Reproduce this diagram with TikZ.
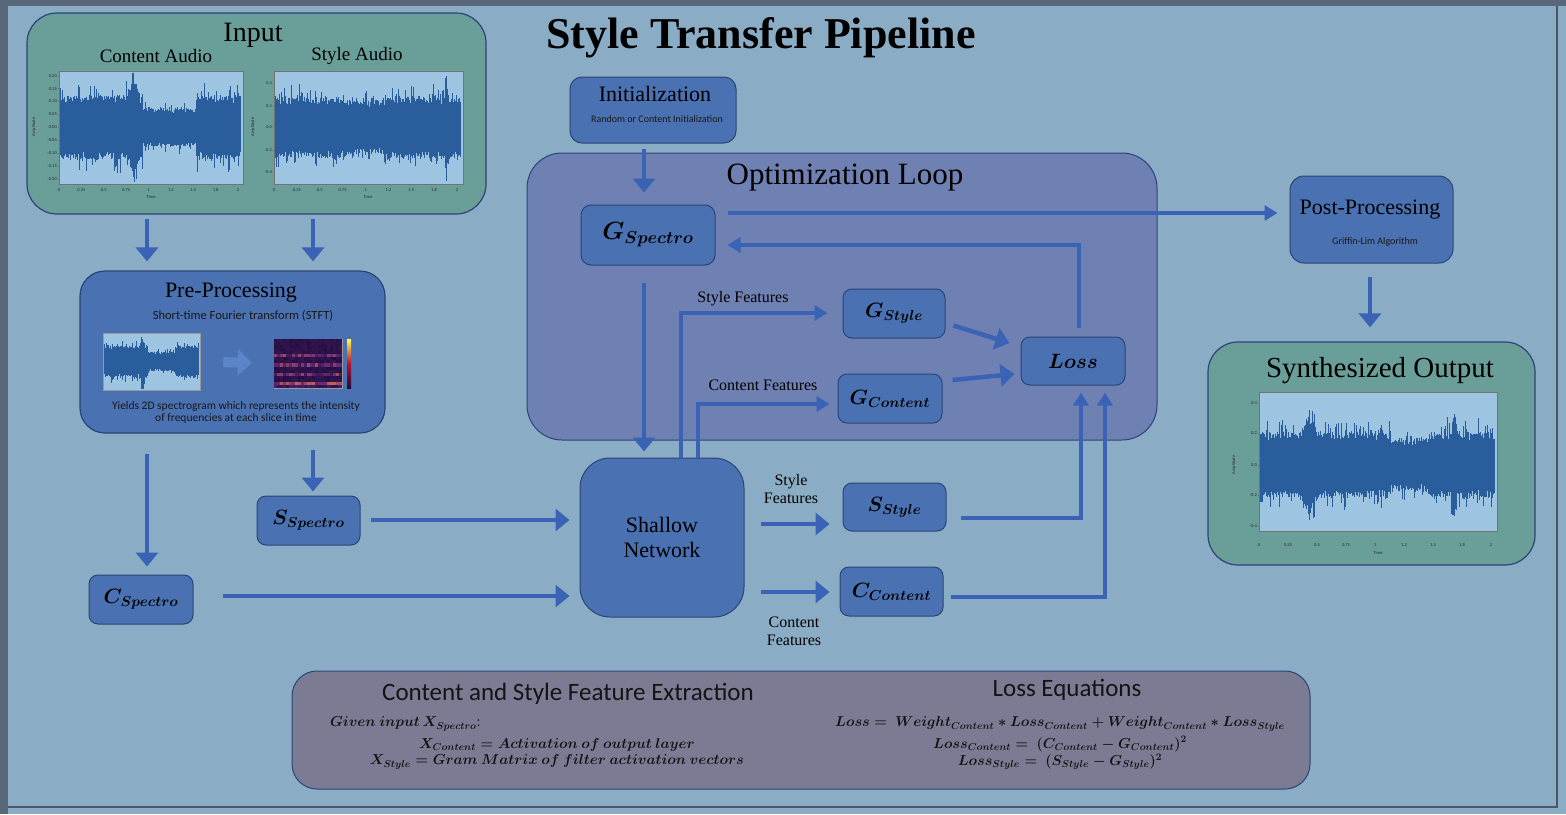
\documentclass[tikz,border=0pt]{standalone}
\usepackage{fontspec}
\setmainfont{Liberation Serif}
\setsansfont{Carlito}
\usetikzlibrary{arrows.meta,calc}
\definecolor{bgc}{HTML}{8AADC5}
\definecolor{framedark}{HTML}{58677A}
\definecolor{greenc}{HTML}{6A9E98}
\definecolor{nodeblue}{HTML}{4A71B1}
\definecolor{optc}{HTML}{6F80B2}
\definecolor{botc}{HTML}{7B7B93}
\definecolor{arrowcol}{HTML}{3A63B5}
\definecolor{borderc}{HTML}{2B4478}
\definecolor{plotbg}{HTML}{9DC4E0}
\definecolor{wavecol}{HTML}{2A5D9C}
\definecolor{prearrow}{HTML}{5B85C8}
\definecolor{magdark}{HTML}{1E0C3A}
\definecolor{magpurple}{HTML}{5C2478}
\definecolor{magorange}{HTML}{D8744A}
\definecolor{tickc}{HTML}{2A2A3A}
\newcommand\fsz[2]{\fontsize{#1}{#2}\selectfont}
\newcommand\wave[7]{%
  \pgfmathsetseed{#7}%
  \foreach \i in {0,...,#6}{%
    \pgfmathsetmacro\wt{\i/#6}%
    \pgfmathsetmacro\wE{#5}%
    \pgfmathsetmacro\wX{#1+(#2-#1)*\wt}%
    \pgfmathsetmacro\wA{#3-#4*min(0.97,\wE*(0.78+0.25*rnd+0.5*rnd^8))}%
    \pgfmathsetmacro\wB{#3+#4*min(0.97,\wE*(0.78+0.25*rnd+0.5*rnd^8))}%
    \draw[wavecol, line width=0.9pt] (\wX,\wA) -- (\wX,\wB);%
  }%
}
\newcommand\xticks[4]{%
  \foreach \lab [count=\k from 0] in {0,0.25,0.5,0.75,1,1.2,1.5,1.8,2}{%
    \node[tickl] (#4x\k) at ({#1+(#2-#1)*\k/8},#3) {\lab};%
  }%
}
\begin{document}
\begin{tikzpicture}[x=1pt,y=-1pt,
  box/.style={draw=borderc, line width=1pt, fill=nodeblue, rounded corners=9pt, inner sep=0pt},
  bigbox/.style={draw=borderc, line width=1.2pt, rounded corners=30pt, inner sep=0pt},
  arr/.style={draw=arrowcol, line width=4.5pt, -{Triangle[width=22pt,length=14pt]}},
  sarr/.style={draw=arrowcol, line width=3.8pt, -{Triangle[width=15pt,length=13pt]}},
  lbl/.style={font=\rmfamily\fsz{16}{18}, text=black, inner sep=0pt},
  mathnode/.style={font=\fsz{20}{22}\boldmath, text=black},
  plotbox/.style={draw=black!55, line width=0.4pt, fill=plotbg, inner sep=0pt},
  tickl/.style={font=\sffamily\fsz{4.5}{5}, text=tickc, inner sep=0pt},
  sans/.style={font=\sffamily, text=black!90}
]
\useasboundingbox (0,0) rectangle (1566,814);
\fill[framedark] (0,0) rectangle (1566,814);
\fill[bgc] (8,6) rectangle (1566,814);
\draw[framedark!85!black, line width=1.2pt] (8,807) -- (1557,807) -- (1557,6);

% title
\node[font=\rmfamily\fsz{44}{46}\bfseries, text=black] (title) at (761,38) {Style Transfer Pipeline};

% ===== Input box =====
\node[bigbox, fill=greenc, minimum width=459pt, minimum height=201pt] (input) at (256.5,113.5) {};
\node[font=\rmfamily\fsz{28}{30}] (inputT) at (253,35) {Input};
\node[font=\rmfamily\fsz{19}{21}] (cA) at (156,56) {Content Audio};
\node[font=\rmfamily\fsz{19}{21}] (sA) at (357,56) {Style Audio};
\node[plotbox, minimum width=184pt, minimum height=113pt] (cplot) at (151,127.5) {};
\node[plotbox, minimum width=189pt, minimum height=113pt] (splot) at (368.5,127.5) {};
\begin{scope}
\clip (59,71) rectangle (243,184);
\wave{60}{240}{127.5}{56.5}{0.55-0.22*(\wt>0.46)*(\wt<0.76)+0.4*max(0,1-abs(\wt-0.41)/0.035)+0.15*max(0,1-abs(\wt-0.2)/0.01)}{300}{11}
\end{scope}
\begin{scope}
\clip (274,71) rectangle (463,184);
\wave{275}{460}{127.5}{56.5}{0.52-0.06*(\wt>0.35)*(\wt<0.6)+0.38*max(0,1-abs(\wt-0.925)/0.012)}{310}{23}
\end{scope}
\foreach \v/\yy [count=\k] in {0.20/75.7,0.15/88.6,0.10/101.5,0.05/114.4,0.00/127.3,-0.05/140.2,-0.10/153.1,-0.15/166,-0.20/179}{
  \node[tickl, anchor=east] (cy\k) at (57,\yy) {\v};
  \draw[black!55, line width=0.3pt] (57.5,\yy) -- (59,\yy);
}
\foreach \v/\yy [count=\k] in {0.4/83.3,0.2/105.7,0.0/127.3,-0.2/150,-0.4/172.3}{
  \node[tickl, anchor=east] (sy\k) at (272,\yy) {\v};
  \draw[black!55, line width=0.3pt] (272.5,\yy) -- (274,\yy);
}
\xticks{59}{238}{190}{c}
\xticks{274}{457}{190}{s}
\node[tickl] (cTime) at (151,197) {Time};
\node[tickl] (sTime) at (368,197) {Time};
\node[tickl, rotate=90] (cAmp) at (34,127) {Amplitude};
\node[tickl, rotate=90] (sAmp) at (253,127) {Amplitude};

% ===== Pre-processing =====
\node[bigbox, fill=nodeblue, rounded corners=25pt, minimum width=305pt, minimum height=162pt] (pre) at (232.5,352) {};
\node[font=\rmfamily\fsz{22}{24}] (preT) at (231,293) {Pre-Processing};
\node[sans, font=\sffamily\fsz{12.5}{14}] (stft) at (243,316) {Short-time Fourier transform (STFT)};
\node[plotbox, draw=black!40, minimum width=97pt, minimum height=57pt] (mwave) at (151.5,361.5) {};
\begin{scope}
\clip (103,333) rectangle (200,390);
\wave{104}{198}{361.5}{28}{0.55-0.22*(\wt>0.46)*(\wt<0.76)+0.4*max(0,1-abs(\wt-0.41)/0.035)}{170}{5}
\end{scope}
\node[draw=black!40, line width=0.3pt, fill=magdark, inner sep=0pt, minimum width=68pt, minimum height=49pt] (mspec) at (308,363.5) {};
\pgfmathsetseed{7}
\foreach \r in {0,...,15}{
  \foreach \c in {0,...,22}{
    \pgfmathsetmacro\sv{min(1,(0.12+0.45*(mod(\r,3)==1)*(\r<12)+0.15*(\r<2))*(0.4+1.0*rnd))}
    \pgfmathtruncatemacro\pa{min(100,220*\sv)}
    \pgfmathtruncatemacro\pb{max(0,min(100,(\sv-0.4)*140))}
    \colorlet{sc}{magpurple!\pa!magdark}
    \fill[magorange!\pb!sc] ({274+2.96*\c},{388-3.07*\r-3.07}) rectangle ++(3.0,3.1);
  }
}
\node[inner sep=0pt, minimum width=4pt, minimum height=49pt, top color=yellow!70!white, bottom color=magdark, middle color=red!60!magpurple] (mbar) at (349,363.5) {};
\draw[prearrow, line width=10pt, -{Triangle[width=26pt,length=14pt]}, shorten <=23pt, shorten >=22pt] (mwave.east) -- (mspec.west);
\node[sans, font=\sffamily\fsz{11.5}{12}, align=center] (yields) at (236,412.5) {Yields 2D spectrogram which represents the intensity\\of frequencies at each slice in time};

% ===== small nodes left =====
\node[box, minimum width=103pt, minimum height=49pt] (sspec) at (308.5,520.5) {};
\node[mathnode] (sspecT) at (sspec) {$S_{Spectro}$};
\node[box, minimum width=104pt, minimum height=49pt] (cspec) at (141,599.5) {};
\node[mathnode] (cspecT) at (cspec) {$C_{Spectro}$};

% ===== Initialization =====
\node[box, rounded corners=12pt, minimum width=166pt, minimum height=66pt] (init) at (653,110) {};
\node[font=\rmfamily\fsz{22}{24}] (initT) at (655,94) {Initialization};
\node[sans, font=\sffamily\fsz{10}{11}] (initS) at (657,119) {Random or Content Initialization};

% ===== Optimization loop =====
\node[draw=borderc, line width=1pt, fill=optc, rounded corners=35pt, minimum width=630pt, minimum height=287pt, inner sep=0pt] (opt) at (842,296.5) {};
\node[font=\rmfamily\fsz{31}{33}] (optT) at (845,178) {Optimization Loop};
\node[box, rounded corners=10pt, minimum width=134pt, minimum height=60pt] (gspec) at (648,235) {};
\node[mathnode, font=\fsz{24}{26}\boldmath] (gspecT) at (gspec) {$G_{Spectro}$};
\node[box, minimum width=102pt, minimum height=49pt] (gstyle) at (894,313.5) {};
\node[mathnode] (gstyleT) at (gstyle) {$G_{Style}$};
\node[box, minimum width=104pt, minimum height=49pt] (gcont) at (890,398.5) {};
\node[mathnode] (gcontT) at (gcont) {$G_{Content}$};
\node[box, minimum width=104pt, minimum height=48pt] (loss) at (1073,361) {};
\node[mathnode] (lossT) at (loss) {$Loss$};

% ===== Shallow network & outputs =====
\node[box, rounded corners=30pt, minimum width=164pt, minimum height=159pt, font=\rmfamily\fsz{22}{25}, align=center] (shallow) at (662,537.5) {Shallow\\Network};
\node[box, minimum width=103pt, minimum height=48pt] (sstyle) at (894.5,507) {};
\node[mathnode] (sstyleT) at (sstyle) {$S_{Style}$};
\node[box, minimum width=103pt, minimum height=49pt] (ccont) at (891.5,591.5) {};
\node[mathnode] (ccontT) at (ccont) {$C_{Content}$};

% ===== Post-processing / output =====
\node[box, rounded corners=14pt, minimum width=163pt, minimum height=87pt] (post) at (1371.5,219.5) {};
\node[font=\rmfamily\fsz{22}{24}] (postT) at (1370,210) {Post-Processing};
\node[sans, font=\sffamily\fsz{10}{11}] (postS) at (1375,242) {Griffin-Lim Algorithm};
\node[bigbox, fill=greenc, minimum width=327pt, minimum height=223pt] (synth) at (1371.5,453.5) {};
\node[font=\rmfamily\fsz{29}{31}] (synthT) at (1380,371) {Synthesized Output};
\node[plotbox, minimum width=238pt, minimum height=139pt] (oplot) at (1378,462) {};
\begin{scope}
\clip (1259,392.5) rectangle (1497,531.5);
\wave{1260}{1494}{464.7}{69}{0.46-0.1*(\wt>0.56)*(\wt<0.72)+0.25*max(0,1-abs(\wt-0.21)/0.04)+0.3*max(0,1-abs(\wt-0.83)/0.015)}{390}{37}
\end{scope}
\foreach \v/\yy [count=\k] in {0.4/402.7,0.2/433.3,0.0/464.7,-0.2/495.3,-0.4/526}{
  \node[tickl, anchor=east] (oy\k) at (1257,\yy) {\v};
  \draw[black!55, line width=0.3pt] (1257.5,\yy) -- (1259,\yy);
}
\xticks{1259}{1491}{545}{o}
\node[tickl] (oTime) at (1378,553) {Time};
\node[tickl, rotate=90] (oAmp) at (1234,465) {Amplitude};

% ===== Bottom box =====
\node[draw=borderc, line width=1pt, fill=botc, rounded corners=25pt, minimum width=1018pt, minimum height=118pt, inner sep=0pt] (bottom) at (801,730) {};
\node[sans, font=\sffamily\fsz{25}{27}, text=black!92] (featT) at (568,694) {Content and Style Feature Extraction};
\node[sans, font=\sffamily\fsz{25}{27}, text=black!92] (lossEqT) at (1067,690) {Loss Equations};
\begin{scope}[every node/.style={font=\fsz{14.5}{17}\boldmath, text=black!92, inner sep=0pt}]
\node[anchor=west] (given) at (330,724) {$Given\ input\,X_{Spectro}$:};
\node (xcont) at (557,745) {$X_{Content} = Activation\ of\ output\ layer$};
\node (xsty) at (557,762) {$X_{Style} = Gram\ Matrix\ of\ filter\ activation\ vectors$};
\node (eqa) at (1060,724) {$Loss =\ Weight_{Content} * Loss_{Content} + Weight_{Content} * Loss_{Style}$};
\node (eqb) at (1060,744) {$Loss_{Content} =\ (C_{Content} - G_{Content})^2$};
\node (eqc) at (1060,762) {$Loss_{Style} =\ (S_{Style} - G_{Style})^2$};
\end{scope}

% ===== coordinates for connectors =====
\coordinate (xA) at (147,0);
\coordinate (xB) at (313,0);
\coordinate (yS) at (0,520);
\coordinate (yC) at (0,596);
\coordinate (xG) at (644,0);
\coordinate (yT) at (0,213);
\coordinate (xL) at (1079,0);
\coordinate (yB) at (0,245);
\coordinate (k1) at (681,313);
\coordinate (k2) at (698,404);
\coordinate (yF1) at (0,524);
\coordinate (yF2) at (0,592);
\coordinate (k3) at (1081,518);
\coordinate (k4) at (1105,597);
\coordinate (xP) at (1370,0);

% ===== connectors =====
\draw[arr, shorten <=4pt, shorten >=9pt] (input.south -| xA) -- (pre.north -| xA);
\draw[arr, shorten <=4pt, shorten >=9pt] (input.south -| xB) -- (pre.north -| xB);
\draw[arr, shorten <=20pt, shorten >=8pt] (pre.south -| xA) -- (cspec.north -| xA);
\draw[arr, shorten <=16pt, shorten >=4pt] (pre.south -| xB) -- (sspec.north -| xB);
\draw[arr, shorten <=10pt, shorten >=10pt] (sspec.east |- yS) -- (shallow.west |- yS);
\draw[arr, shorten <=29pt, shorten >=10pt] (cspec.east |- yC) -- (shallow.west |- yC);
\draw[arr, shorten <=5pt, shorten >=12pt] (init.south -| xG) -- (gspec.north -| xG);
\draw[sarr, shorten <=12pt, shorten >=12pt] (gspec.east |- yT) -- (post.west |- yT);
\draw[sarr, shorten <=9pt, shorten >=12pt] (loss.north -| xL) -- (xL |- yB) -- (gspec.east |- yB);
\draw[arr, shorten <=17pt, shorten >=6pt] (gspec.south -| xG) -- (shallow.north -| xG);
\draw[sarr, shorten >=15pt] (shallow.north -| k1) -- (k1) -- (gstyle.west |- k1);
\draw[sarr, shorten >=8pt] (shallow.north -| k2) -- (k2) -- (gcont.west |- k2);
\draw[arr] ([shift={(8,12)}]gstyle.east) -- ([shift={(-11,-18)}]loss.west);
\draw[arr] ([shift={(10,-18.5)}]gcont.east) -- ([shift={(-6,13)}]loss.west);
\draw[arr, shorten <=16pt, shorten >=13pt] (shallow.east |- yF1) -- (sstyle.west |- yF1);
\draw[arr, shorten <=16pt, shorten >=10pt] (shallow.east |- yF2) -- (ccont.west |- yF2);
\draw[sarr, shorten <=14pt, shorten >=7pt] (sstyle.east |- k3) -- (k3) -- (loss.south -| k3);
\draw[sarr, shorten <=7pt, shorten >=7pt] (ccont.east |- k4) -- (k4) -- (loss.south -| k4);
\draw[arr, shorten <=13pt, shorten >=14pt] (post.south -| xP) -- (synth.north -| xP);

% ===== labels =====
\node[lbl] (lsf) at (743,299) {Style Features};
\node[lbl] (lcf) at (763,385) {Content Features};
\node[lbl, align=center] (lsf2) at (791,489) {Style\\Features};
\node[lbl, align=center] (lcf2) at (794,631) {Content\\Features};
\end{tikzpicture}
\end{document}
